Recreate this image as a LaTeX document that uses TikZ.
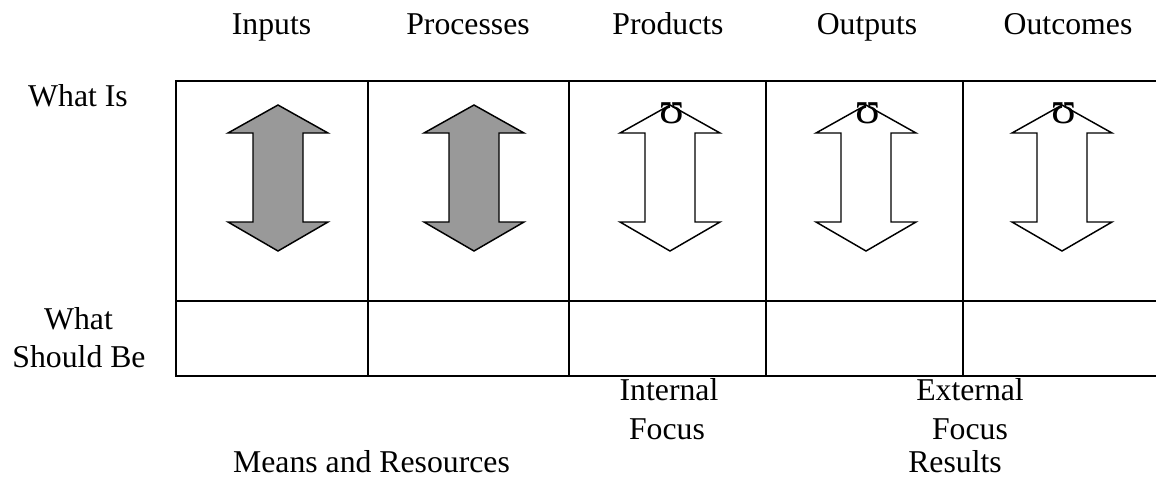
\documentclass[tikz,border=0pt]{standalone}
\usepackage{fontspec}
\setmainfont{Liberation Serif}
\begin{document}
\begin{tikzpicture}[x=0.75pt,y=-0.75pt,
  lbl/.style={inner sep=0pt,anchor=base,font=\fontsize{23.8}{28}\selectfont},
  gridline/.style={line width=1.5pt},
  dblarrow/.style={line width=1.1pt,line join=miter},
  solidarrow/.style={dblarrow,fill=black!40},
  hollowarrow/.style={dblarrow,fill=white},
  mark glyph/.style={inner sep=0pt,font=\fontsize{34}{40}\selectfont}]
\useasboundingbox (0,0) rectangle (1156,483);
\clip (0,0) rectangle (1156,483);

% table frame (open on the right)
\coordinate (tl) at (176,81);
\coordinate (ml) at (175,300.7);
\coordinate (bl) at (176,376);
\draw[gridline] (1160,81) -- (tl) -- (bl) -- (1160,376);
\draw[gridline] (ml) -- (1160,300.7);
\foreach \cx in {368,569,766,963}
  \draw[gridline] (\cx,81) -- (\cx,376);

% double-headed arrows
\foreach \cx/\st in {278/solidarrow,474/solidarrow,670/hollowarrow,866/hollowarrow,1062/hollowarrow}{
  \draw[\st] (\cx,105) -- (\cx+50,133) -- (\cx+25,133) -- (\cx+25,222)
    -- (\cx+50,222) -- (\cx,251) -- (\cx-50,222) -- (\cx-25,222)
    -- (\cx-25,133) -- (\cx-50,133) -- cycle;
}
\foreach \cx/\nm in {672/g3,868/g4,1064/g5}
  \node[mark glyph,anchor=base] (\nm) at (\cx,123) {ʊ};

% column headings
\node[lbl] (inputs)    at (271.5,34) {Inputs};
\node[lbl] (processes) at (468,34)   {Processes};
\node[lbl] (products)  at (668,34)   {Products};
\node[lbl] (outputs)   at (867,34)   {Outputs};
\node[lbl] (outcomes)  at (1068,34)  {Outcomes};

% row headings
\node[lbl] (whatis)  at (78,106)  {What Is};
\node[lbl] (what)    at (78.5,329) {What};
\node[lbl] (should)  at (79,367)  {Should Be};

% focus and grouping labels
\node[lbl] (internal)  at (669,400) {Internal};
\node[lbl] (infocus)   at (667,439) {Focus};
\node[lbl] (external)  at (970,400) {External};
\node[lbl] (exfocus)   at (970,439) {Focus};
\node[lbl] (means)     at (371.5,472) {Means and Resources};
\node[lbl] (results)   at (955,472) {Results};
\end{tikzpicture}
\end{document}
